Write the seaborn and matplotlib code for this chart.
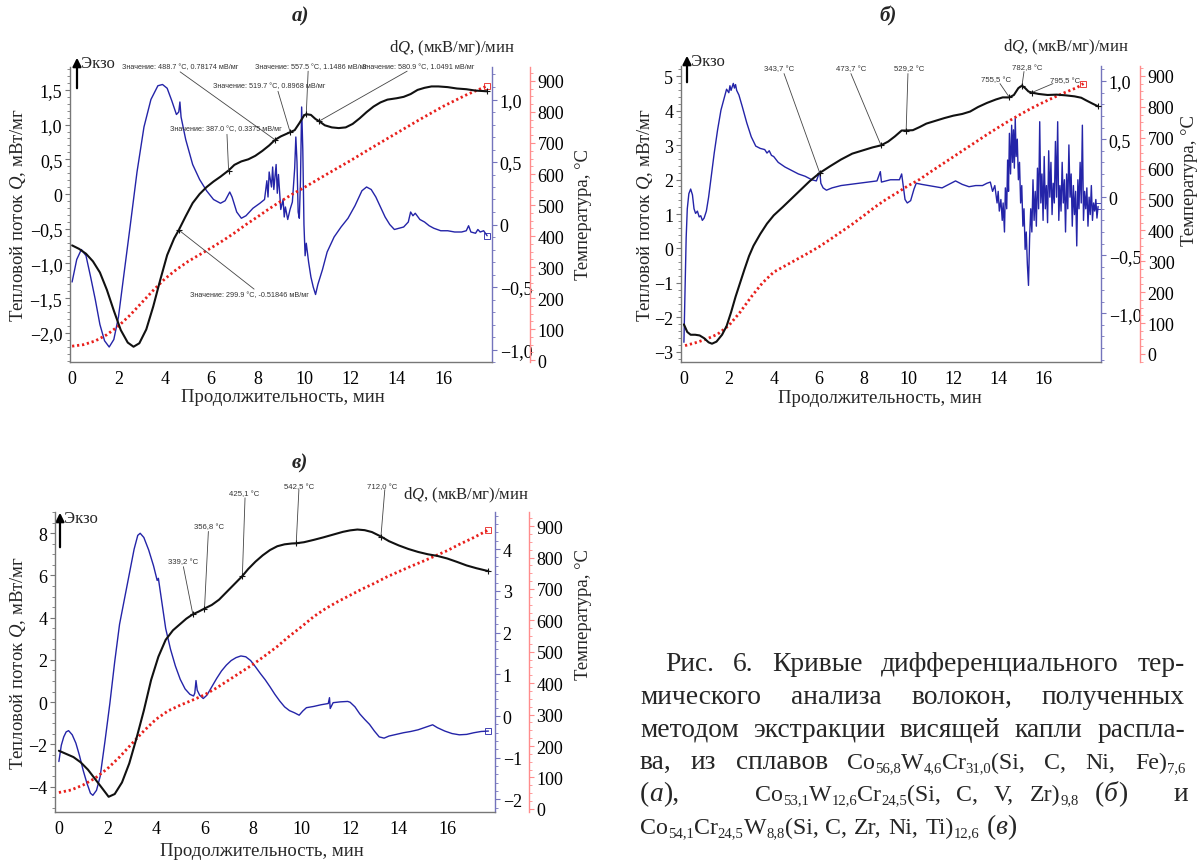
import re
import numpy as np
import matplotlib
matplotlib.use("Agg")
import matplotlib.pyplot as plt
import seaborn as sns
from matplotlib.ticker import FixedLocator, FixedFormatter, AutoMinorLocator

# ---------------------------------------------------------------- data
# common tick values / labels
time_ticks = [0, 2, 4, 6, 8, 10, 12, 14, 16]
temp_ticks = [0, 100, 200, 300, 400, 500, 600, 700, 800, 900]

# ---- panel а
a_q_t = [0.0, 0.3, 0.6, 0.9, 1.2, 1.5, 1.8, 2.1, 2.4, 2.65, 2.9, 3.2, 3.5, 3.8, 4.1, 4.4, 4.6, 4.9,
         5.2, 5.5, 5.8, 6.1, 6.4, 6.75, 7.0, 7.3, 7.6, 7.9, 8.2, 8.5, 8.75, 9.0, 9.2, 9.4, 9.6, 9.8,
         10.0, 10.1, 10.3, 10.5, 10.65, 10.9, 11.2, 11.5, 11.8, 12.1, 12.4, 12.7, 13.0, 13.3, 13.6,
         14.0, 14.3, 14.6, 14.9, 15.2, 15.5, 15.8, 16.2, 16.6, 17.0, 17.4, 17.9]
a_q = [-0.74, -0.79, -0.86, -0.97, -1.13, -1.38, -1.68, -1.96, -2.14, -2.2, -2.15, -1.95, -1.62,
       -1.24, -0.88, -0.64, -0.52, -0.32, -0.13, 0.0, 0.1, 0.18, 0.25, 0.34, 0.42, 0.47, 0.5, 0.55,
       0.62, 0.7, 0.78, 0.83, 0.86, 0.89, 0.92, 1.02, 1.13, 1.15, 1.14, 1.08, 1.05, 0.99, 0.96, 0.95,
       0.96, 1.01, 1.09, 1.18, 1.26, 1.32, 1.36, 1.38, 1.4, 1.44, 1.5, 1.53, 1.55, 1.55, 1.54, 1.52,
       1.51, 1.49, 1.48]
a_dq_t = [0.0, 0.2, 0.4, 0.6, 0.8, 1.0, 1.2, 1.4, 1.6, 1.8, 2.0, 2.2, 2.5, 2.8, 3.1, 3.4, 3.7, 3.9,
          4.1, 4.3, 4.5, 4.6, 4.65, 4.7, 4.9, 5.2, 5.5, 5.8, 6.1, 6.4, 6.6, 6.8, 6.9, 7.1, 7.3, 7.5,
          7.8, 8.1, 8.3, 8.4, 8.45, 8.5, 8.6, 8.65, 8.7, 8.8, 8.85, 8.9, 9.0, 9.1, 9.15, 9.2, 9.3,
          9.4, 9.5, 9.6, 9.65, 9.7, 9.75, 9.8, 9.85, 9.9, 9.95, 10.0, 10.05, 10.1, 10.2, 10.3, 10.4,
          10.5, 10.6, 10.8, 11.0, 11.3, 11.6, 11.9, 12.2, 12.5, 12.7, 12.9, 13.1, 13.3, 13.5, 13.7,
          13.9, 14.1, 14.3, 14.5, 14.6, 14.7, 14.8, 15.0, 15.2, 15.4, 15.6, 15.9, 16.2, 16.5, 16.8,
          17.0, 17.1, 17.2, 17.4, 17.5, 17.6, 17.75, 17.9]
a_dq = [-0.46, -0.28, -0.2, -0.25, -0.42, -0.6, -0.8, -0.93, -0.98, -0.92, -0.74, -0.45, -0.02,
        0.42, 0.78, 1.0, 1.11, 1.12, 1.09, 0.99, 0.88, 0.9, 0.98, 0.86, 0.68, 0.48, 0.36, 0.27, 0.2,
        0.17, 0.19, 0.26, 0.22, 0.1, 0.05, 0.07, 0.13, 0.17, 0.2, 0.35, 0.22, 0.42, 0.3, 0.46, 0.28,
        0.48, 0.25, 0.4, 0.12, 0.2, 0.06, 0.14, 0.04, 0.12, 0.18, 0.45, 0.7, 0.5, 0.1, 0.05, 0.35,
        0.94, 0.6, 0.0, -0.25, -0.15, -0.3, -0.42, -0.5, -0.56, -0.48, -0.36, -0.22, -0.1, -0.02,
        0.05, 0.15, 0.27, 0.3, 0.28, 0.22, 0.14, 0.06, 0.0, -0.04, -0.03, -0.02, 0.02, 0.1, 0.07,
        0.09, 0.04, 0.02, -0.01, -0.03, -0.05, -0.05, -0.06, -0.06, -0.05, -0.01, -0.06, -0.07,
        -0.04, -0.06, -0.05, -0.09]
a_T_t = [0.0, 0.5, 1.0, 1.5, 2.0, 2.5, 3.0, 3.5, 4.0, 4.5, 5.0, 5.5, 6.0, 6.5, 7.0, 7.5, 8.0, 8.5,
         9.0, 9.5, 10.0, 10.5, 11.0, 12.0, 13.0, 14.0, 15.0, 16.0, 17.0, 17.9]
a_T = [45, 50, 62, 82, 110, 145, 185, 225, 262, 292, 318, 340, 362, 385, 410, 437, 462, 488, 512,
       535, 556, 578, 600, 643, 688, 732, 776, 818, 855, 884]
a_q_ticks = [-2.0, -1.5, -1.0, -0.5, 0.0, 0.5, 1.0, 1.5]
a_q_labels = ["\u22122,0", "\u22121,5", "\u22121,0", "\u22120,5", "0", "0,5", "1,0", "1,5"]
a_dq_ticks = [-1.0, -0.5, 0.0, 0.5, 1.0]
a_dq_labels = ["\u22121,0", "\u22120,5", "0", "0,5", "1,0"]
a_ann_t = [8.75, 9.4, 10.1, 10.65, 6.75, 4.6]
a_ann_q = [0.78174, 0.8968, 1.1486, 1.0491, 0.3375, -0.51846]
a_ann_text = ["Значение: 488.7 °C, 0.78174 мВ/мг", "Значение: 519.7 °C, 0.8968 мВ/мг",
              "Значение: 557.5 °C, 1.1486 мВ/мг", "Значение: 580.9 °C, 1.0491 мВ/мг",
              "Значение: 387.0 °C, 0.3375 мВ/мг", "Значение: 299.9 °C, -0.51846 мВ/мг"]

# ---- panel б
b_q_t = [0.0, 0.15, 0.3, 0.5, 0.7, 0.9, 1.1, 1.25, 1.45, 1.7, 1.9, 2.1, 2.3, 2.5, 2.7, 2.9, 3.1,
         3.4, 3.7, 4.0, 4.4, 4.8, 5.2, 5.6, 6.05, 6.5, 7.0, 7.5, 8.0, 8.4, 8.78, 9.1, 9.4, 9.7, 9.9,
         10.2, 10.5, 10.8, 11.2, 11.6, 12.0, 12.4, 12.75, 13.1, 13.5, 13.9, 14.2, 14.5, 14.7, 14.9,
         15.06, 15.2, 15.35, 15.5, 15.8, 16.2, 16.6, 17.0, 17.4, 17.7, 17.9, 18.2, 18.45]
b_q = [-2.2, -2.42, -2.5, -2.5, -2.52, -2.6, -2.72, -2.76, -2.7, -2.5, -2.25, -1.85, -1.4, -1.0,
       -0.6, -0.22, 0.08, 0.42, 0.72, 0.96, 1.2, 1.45, 1.7, 1.95, 2.19, 2.38, 2.58, 2.75, 2.85,
       2.93, 2.99, 3.1, 3.25, 3.42, 3.42, 3.43, 3.52, 3.62, 3.7, 3.78, 3.85, 3.9, 3.97, 4.1, 4.22,
       4.32, 4.38, 4.38, 4.45, 4.65, 4.72, 4.65, 4.55, 4.52, 4.48, 4.45, 4.46, 4.44, 4.41, 4.37,
       4.3, 4.2, 4.12]
b_dq_t = [0.0, 0.05, 0.1, 0.15, 0.22, 0.3, 0.38, 0.45, 0.52, 0.6, 0.68, 0.75, 0.82, 0.9, 1.0,
          1.1, 1.2, 1.35, 1.5, 1.65, 1.8, 1.9, 2.0, 2.05, 2.1, 2.2, 2.25, 2.3, 2.35, 2.45, 2.6,
          2.8, 3.0, 3.2, 3.4, 3.6, 3.7, 3.8, 3.9, 4.0, 4.2, 4.5, 4.8, 5.1, 5.4, 5.7, 5.9, 6.05,
          6.1, 6.2, 6.35, 6.6, 7.0, 7.4, 7.8, 8.2, 8.6, 8.75, 8.8, 9.2, 9.6, 9.7, 9.78, 9.85, 9.95,
          10.1, 10.25, 10.35, 10.6, 10.9, 11.2, 11.5, 11.8, 12.1, 12.4, 12.7, 13.0, 13.3, 13.5,
          13.65, 13.75, 13.85, 13.95, 14.0, 14.05, 14.12, 14.18, 14.22, 14.28, 14.32, 14.38, 14.42,
          14.46, 14.5, 14.55, 14.6, 14.64, 14.68, 14.72, 14.76, 14.8, 14.85, 14.9, 14.95, 15.0,
          15.05, 15.1, 15.15, 15.2, 15.25, 15.3, 15.35, 15.4, 15.45, 15.5, 15.55, 15.6, 15.65,
          15.7, 15.75, 15.8, 15.85, 15.9, 15.95, 16.0, 16.05, 16.1, 16.15, 16.2, 16.25, 16.3,
          16.35, 16.4, 16.45, 16.5, 16.55, 16.6, 16.65, 16.7, 16.75, 16.8, 16.85, 16.9, 16.95,
          17.0, 17.05, 17.1, 17.15, 17.2, 17.25, 17.3, 17.35, 17.4, 17.45, 17.5, 17.55, 17.6,
          17.65, 17.7, 17.75, 17.8, 17.85, 17.9, 17.95, 18.0, 18.05, 18.1, 18.15, 18.2, 18.25,
          18.3, 18.35, 18.4, 18.45]
b_dq = [-1.25, -0.8, -0.35, -0.1, 0.03, 0.07, 0.02, -0.1, -0.14, -0.12, -0.17, -0.16, -0.2,
        -0.18, -0.12, 0.0, 0.15, 0.38, 0.58, 0.75, 0.86, 0.93, 0.9, 0.96, 0.92, 0.98, 0.94, 0.97,
        0.92, 0.88, 0.78, 0.64, 0.52, 0.44, 0.42, 0.41, 0.38, 0.4, 0.36, 0.35, 0.3, 0.26, 0.23,
        0.2, 0.18, 0.15, 0.14, 0.22, 0.12, 0.08, 0.06, 0.08, 0.1, 0.11, 0.12, 0.13, 0.14, 0.22,
        0.13, 0.15, 0.15, 0.2, 0.08, -0.02, -0.05, -0.03, 0.07, 0.12, 0.11, 0.1, 0.09, 0.08, 0.11,
        0.14, 0.11, 0.09, 0.1, 0.1, 0.12, 0.13, 0.05, 0.1, -0.05, 0.05, -0.12, -0.02, -0.2, -0.05,
        -0.3, 0.08, -0.1, 0.32, 0.05, 0.55, 0.2, 0.62, 0.3, 0.58, 0.25, 0.68, 0.35, 0.5, 0.15,
        0.3, -0.05, 0.1, -0.25, -0.1, -0.45, -0.3, -0.58, -0.76, -0.35, -0.1, -0.3, 0.15, -0.2,
        0.05, -0.25, 0.25, -0.1, 0.65, -0.05, 0.2, -0.2, 0.35, -0.1, 0.1, -0.22, 0.4, 0.0, 0.3,
        -0.15, 0.12, -0.05, 0.48, 0.0, 0.65, -0.2, 0.1, -0.12, 0.3, -0.05, 0.15, -0.3, 0.2, -0.1,
        0.45, 0.0, 0.2, -0.25, 0.1, -0.15, 0.05, -0.42, 0.15, -0.1, 0.3, -0.05, 0.62, -0.2, 0.05,
        -0.1, 0.08, -0.25, 0.0, -0.15, 0.1, -0.2, -0.05, -0.12, -0.02, -0.18, -0.08]
b_T_t = [0.05, 0.5, 1.0, 1.5, 2.0, 2.5, 3.0, 3.5, 4.0, 4.5, 5.0, 5.5, 6.0, 6.5, 7.0, 7.5, 8.0,
         8.5, 9.0, 9.5, 10.0, 10.5, 11.0, 11.5, 12.0, 12.5, 13.0, 13.5, 14.0, 14.5, 15.0, 15.5,
         16.0, 16.5, 17.0, 17.5, 17.8]
b_T = [27, 36, 48, 64, 92, 135, 185, 230, 265, 285, 305, 325, 346, 370, 395, 420, 447, 475, 500,
       522, 545, 565, 590, 614, 638, 662, 686, 710, 733, 755, 776, 796, 814, 831, 847, 862, 875]
b_q_ticks = [-3, -2, -1, 0, 1, 2, 3, 4, 5]
b_q_labels = ["\u22123", "\u22122", "\u22121", "0", "1", "2", "3", "4", "5"]
b_dq_ticks = [-1.0, -0.5, 0.0, 0.5, 1.0]
b_dq_labels = ["\u22121,0", "\u22120,5", "0", "0,5", "1,0"]
b_ann_t = [6.05, 8.78, 9.9, 14.5, 15.06, 15.5]
b_ann_q = [2.19, 2.99, 3.42, 4.38, 4.72, 4.52]
b_ann_text = ["343,7 °C", "473,7 °C", "529,2 °C", "755,5 °C", "782,8 °C", "795,5 °C"]

# ---- panel в
c_q_t = [0.0, 0.3, 0.6, 0.9, 1.2, 1.5, 1.8, 2.05, 2.3, 2.6, 2.9, 3.2, 3.5, 3.8, 4.1, 4.4, 4.7,
         5.0, 5.25, 5.52, 5.75, 6.0, 6.3, 6.6, 6.9, 7.2, 7.56, 7.8, 8.1, 8.4, 8.7, 9.0, 9.3, 9.6,
         9.78, 10.1, 10.5, 10.9, 11.3, 11.7, 12.0, 12.3, 12.6, 12.9, 13.27, 13.6, 14.0, 14.4,
         14.8, 15.2, 15.6, 16.0, 16.4, 16.8, 17.2, 17.7]
c_q = [-2.3, -2.45, -2.6, -2.85, -3.2, -3.65, -4.1, -4.48, -4.35, -3.8, -2.9, -1.7, -0.4, 1.05,
       2.15, 2.95, 3.4, 3.7, 3.95, 4.16, 4.28, 4.43, 4.6, 4.85, 5.2, 5.55, 5.97, 6.3, 6.65, 6.95,
       7.2, 7.38, 7.47, 7.51, 7.52, 7.57, 7.68, 7.8, 7.93, 8.06, 8.13, 8.17, 8.14, 8.05, 7.84,
       7.62, 7.42, 7.25, 7.11, 7.0, 6.92, 6.8, 6.64, 6.47, 6.34, 6.2]
c_dq_t = [0.0, 0.1, 0.2, 0.3, 0.4, 0.55, 0.7, 0.85, 1.0, 1.15, 1.3, 1.4, 1.55, 1.7, 1.9, 2.1,
          2.3, 2.5, 2.7, 2.9, 3.1, 3.25, 3.35, 3.5, 3.7, 3.9, 4.05, 4.1, 4.2, 4.4, 4.6, 4.8, 5.0,
          5.2, 5.4, 5.55, 5.6, 5.65, 5.7, 5.8, 5.95, 6.1, 6.3, 6.5, 6.7, 6.9, 7.1, 7.3, 7.5, 7.7,
          7.9, 8.1, 8.3, 8.5, 8.7, 8.9, 9.1, 9.3, 9.5, 9.7, 9.9, 10.05, 10.2, 10.5, 10.8, 11.1,
          11.15, 11.18, 11.3, 11.6, 11.9, 12.0, 12.2, 12.4, 12.6, 12.8, 13.0, 13.2, 13.4, 13.6,
          13.9, 14.2, 14.5, 14.8, 15.1, 15.4, 15.6, 15.9, 16.2, 16.5, 16.8, 17.1, 17.4, 17.7]
c_dq = [-1.09, -0.7, -0.5, -0.38, -0.35, -0.45, -0.65, -0.95, -1.3, -1.6, -1.85, -1.9, -1.78,
        -1.45, -0.6, 0.3, 1.3, 2.2, 2.8, 3.4, 4.0, 4.33, 4.38, 4.28, 3.98, 3.6, 3.25, 3.3, 2.9,
        2.1, 1.6, 1.2, 0.88, 0.65, 0.52, 0.48, 0.55, 0.85, 0.62, 0.5, 0.42, 0.5, 0.7, 0.9, 1.08,
        1.22, 1.33, 1.4, 1.44, 1.42, 1.33, 1.18, 1.02, 0.87, 0.7, 0.52, 0.36, 0.22, 0.13, 0.08,
        0.02, 0.12, 0.2, 0.23, 0.27, 0.3, 0.44, 0.18, 0.32, 0.34, 0.35, 0.33, 0.22, 0.05, -0.08,
        -0.2, -0.36, -0.5, -0.53, -0.48, -0.44, -0.4, -0.37, -0.33, -0.27, -0.21, -0.28, -0.36,
        -0.42, -0.45, -0.44, -0.4, -0.37, -0.36]
c_T_t = [0.0, 0.5, 1.0, 1.5, 2.0, 2.5, 3.0, 3.5, 4.0, 4.5, 5.0, 5.5, 6.0, 6.5, 7.0, 7.5, 8.0,
         8.5, 9.0, 9.5, 10.0, 10.5, 11.0, 11.5, 12.0, 12.5, 13.0, 13.5, 14.0, 14.5, 15.0, 15.5,
         16.0, 16.5, 17.0, 17.7]
c_T = [52, 60, 76, 98, 128, 165, 207, 248, 285, 312, 330, 346, 363, 385, 410, 435, 460, 488, 517,
       550, 580, 612, 638, 660, 680, 700, 718, 738, 755, 772, 788, 805, 822, 842, 860, 888]
c_q_ticks = [-4, -2, 0, 2, 4, 6, 8]
c_q_labels = ["\u22124", "\u22122", "0", "2", "4", "6", "8"]
c_dq_ticks = [-2, -1, 0, 1, 2, 3, 4]
c_dq_labels = ["\u22122", "\u22121", "0", "1", "2", "3", "4"]
c_ann_t = [5.52, 6.0, 7.56, 9.78, 13.27]
c_ann_q = [4.16, 4.43, 5.97, 7.52, 7.84]
c_ann_text = ["339,2 °C", "356,8 °C", "425,1 °C", "542,5 °C", "712,0 °C"]

# ---- caption (markup: _{..} subscript, *..* italic)
caption_groups = [
    [(665, 1185, "Рис. 6. Кривые дифференциального тер-")],
    [(640, 1185, "мического анализа волокон, полученных")],
    [(640, 1185, "методом экстракции висящей капли распла-")],
    [(640, 1185, "ва, из сплавов Co_{56,8}W_{4,6}Cr_{31,0}(Si, C, Ni, Fe)_{7,6}")],
    [(640, None, "(*а*),"), (755, 1127, "Co_{53,1}W_{12,6}Cr_{24,5}(Si, C, V, Zr)_{9,8} (*б*)"),
     (1174, None, "и")],
    [(640, None, "Co_{54,1}Cr_{24,5}W_{8,8}(Si, C, Zr, Ni, Ti)_{12,6} (*в*)")],
]
caption_baselines = [671, 704, 737, 769, 801, 834]

# ---------------------------------------------------------------- style
sns.set_theme(style="white")
plt.rcParams["font.family"] = ["Liberation Serif", "DejaVu Serif"]
plt.rcParams["mathtext.fontset"] = "custom"
plt.rcParams["mathtext.rm"] = "Liberation Serif"
plt.rcParams["mathtext.it"] = "Liberation Serif:italic"
plt.rcParams["mathtext.bf"] = "Liberation Serif:bold"

BLACK = "#111111"
BLUE = "#2424a8"
RED = "#e8201c"
SP_GRAY = "#777777"
SP_BLUE = "#7474bc"
SP_RED = "#ff8c8c"
TICK_FS = 13
LAB_FS = 13.5
DQ_FS = 12
ANN_FONT = ["Liberation Sans", "DejaVu Sans"]

fig = plt.figure(figsize=(12, 8.62), dpi=100)
fig.patch.set_facecolor("white")


def fx(x):
    return x / 1200.0


def fy(y):
    return 1.0 - y / 862.0


def style_axis(a, which, color):
    a.tick_params(axis=which, which="major", length=3.5, width=0.8, color=color,
                  labelsize=TICK_FS, labelcolor="black", pad=2)
    a.tick_params(axis=which, which="minor", length=2, width=0.6, color=color)


def make_panel(rect, xlim, qlim, dqlim, Tlim, red_off,
               q_t, q, dq_t, dq, T_t, T,
               q_ticks, q_labels, dq_ticks, dq_labels, q_minor, dq_minor):
    ax = fig.add_axes(rect)
    axb = ax.twinx()
    axr = ax.twinx()
    ax.set_zorder(3)
    axr.set_zorder(2)
    axb.set_zorder(1)
    ax.patch.set_visible(False)

    sns.lineplot(x=np.array(dq_t), y=np.array(dq), ax=axb, color=BLUE, lw=1.0,
                 estimator=None, sort=False, legend=False)
    sns.lineplot(x=np.array(T_t), y=np.array(T), ax=axr, color=RED, lw=2.0,
                 linestyle=(0, (0.8, 1.0)), estimator=None, sort=False, legend=False)
    sns.lineplot(x=np.array(q_t), y=np.array(q), ax=ax, color=BLACK, lw=1.5,
                 estimator=None, sort=False, legend=False)
    # small end markers
    axb.plot(dq_t[-1], dq[-1], marker="s", ms=4, mfc="none", mec=BLUE, mew=0.6)
    axr.plot(T_t[-1], T[-1], marker="s", ms=4, mfc="none", mec=RED, mew=0.6)
    ax.plot(q_t[-1], q[-1], marker="+", ms=5, color=BLACK, mew=0.8)

    ax.set_xlim(*xlim)
    ax.set_ylim(*qlim)
    axb.set_ylim(*dqlim)
    axr.set_ylim(*Tlim)
    for a in (ax, axb, axr):
        a.set_xlabel("")
        a.set_ylabel("")
        a.grid(False)

    ax.xaxis.set_major_locator(FixedLocator(time_ticks))
    ax.xaxis.set_major_formatter(FixedFormatter([str(v) for v in time_ticks]))
    ax.xaxis.set_minor_locator(AutoMinorLocator(2))
    ax.yaxis.set_major_locator(FixedLocator(q_ticks))
    ax.yaxis.set_major_formatter(FixedFormatter(q_labels))
    ax.yaxis.set_minor_locator(AutoMinorLocator(q_minor))
    axb.yaxis.set_major_locator(FixedLocator(dq_ticks))
    axb.yaxis.set_major_formatter(FixedFormatter(dq_labels))
    axb.yaxis.set_minor_locator(AutoMinorLocator(dq_minor))
    axr.yaxis.set_major_locator(FixedLocator(temp_ticks))
    axr.yaxis.set_major_formatter(FixedFormatter([str(v) for v in temp_ticks]))
    axr.yaxis.set_minor_locator(AutoMinorLocator(4))

    for s in ("top", "right"):
        ax.spines[s].set_visible(False)
    for s in ("left", "bottom"):
        ax.spines[s].set_color(SP_GRAY)
        ax.spines[s].set_linewidth(1.0)
    for a, col in ((axb, SP_BLUE), (axr, SP_RED)):
        for s in ("top", "left", "bottom"):
            a.spines[s].set_visible(False)
        a.spines["right"].set_color(col)
        a.spines["right"].set_linewidth(1.0)
    axr.spines["right"].set_position(("axes", red_off))

    style_axis(ax, "x", SP_GRAY)
    style_axis(ax, "y", SP_GRAY)
    style_axis(axb, "y", SP_BLUE)
    style_axis(axr, "y", SP_RED)
    return ax, axb, axr


def annotate(ax, ts, qs, texts, label_xy, start_xy, ha, fs):
    ax.plot(ts, qs, linestyle="none", marker="+", ms=5, mew=0.8, color=BLACK, zorder=5)
    for t, q, s, (lx, ly), (sx, sy) in zip(ts, qs, texts, label_xy, start_xy):
        ax.plot([sx, t], [sy, q], color="#444444", lw=0.6, clip_on=False, zorder=4)
        ax.text(lx, ly, s, ha=ha, va="center", fontsize=fs, family=ANN_FONT,
                color="#333333", clip_on=False, zorder=6)


def side_texts(title_xy, dq_xy, ylab_xy, tlab_xy, xlab_xy, exo_x, exo_y0, exo_y1, title):
    fig.text(fx(title_xy[0]), fy(title_xy[1]), title, ha="center", va="center",
             fontsize=15, fontstyle="italic", fontweight="bold")
    fig.text(fx(dq_xy[0]), fy(dq_xy[1]), "d$\\mathit{Q}$, (мкВ/мг)/мин", ha="center",
             va="center", fontsize=DQ_FS)
    fig.text(fx(ylab_xy[0]), fy(ylab_xy[1]), "Тепловой поток $\\mathit{Q}$, мВт/мг",
             ha="center", va="center", rotation=90, fontsize=LAB_FS)
    fig.text(fx(tlab_xy[0]), fy(tlab_xy[1]), "Температура, °C", ha="center", va="center",
             rotation=90, fontsize=LAB_FS)
    fig.text(fx(xlab_xy[0]), fy(xlab_xy[1]), "Продолжительность, мин", ha="center",
             va="center", fontsize=LAB_FS)
    fig.add_artist(matplotlib.patches.FancyArrowPatch(
        (fx(exo_x), fy(exo_y0)), (fx(exo_x), fy(exo_y1)), transform=fig.transFigure,
        arrowstyle="-|>,head_length=5,head_width=2.5", color="black", lw=1.6))
    fig.text(fx(exo_x + 4), fy(exo_y1 + 8), "Экзо", ha="left", va="center", fontsize=12)


# ---------------------------------------------------------------- panel а
ax_a, _, _ = make_panel([fx(70), fy(363), fx(422), 295 / 862.0], (-0.09, 18.11), (-2.42, 1.83),
                        (-1.10, 1.26), (-6, 945), 1.090,
                        a_q_t, a_q, a_dq_t, a_dq, a_T_t, a_T,
                        a_q_ticks, a_q_labels, a_dq_ticks, a_dq_labels, 5, 5)
annotate(ax_a, a_ann_t, a_ann_q, a_ann_text,
         [(2.16, 1.83), (6.08, 1.556), (7.89, 1.83), (12.5, 1.83), (4.23, 0.95), (5.09, -1.455)],
         [(4.66, 1.76), (8.88, 1.48), (10.18, 1.77), (14.45, 1.77), (6.68, 0.86), (7.85, -1.37)],
         "left", 5.2)
side_texts((300, 16), (452, 48), (18, 215), (583, 215), (283, 398), 77, 92, 56, "а)")

# ---------------------------------------------------------------- panel б
ax_b, _, _ = make_panel([fx(681), fy(363), fx(420), 296 / 862.0], (-0.13, 18.58), (-3.29, 5.29),
                        (-1.42, 1.13), (-26, 932), 1.093,
                        b_q_t, b_q, b_dq_t, b_dq, b_T_t, b_T,
                        b_q_ticks, b_q_labels, b_dq_ticks, b_dq_labels, 5, 5)
annotate(ax_b, b_ann_t, b_ann_q, b_ann_text,
         [(4.23, 5.22), (7.44, 5.22), (10.03, 5.22), (13.9, 4.9), (15.29, 5.25), (17.0, 4.87)],
         [(4.46, 5.07), (7.44, 5.07), (9.98, 5.07), (14.08, 4.78), (15.15, 5.13), (16.44, 4.78)],
         "center", 5.6)
side_texts((888, 16), (1066, 47), (645, 215), (1189, 180), (880, 399), 687, 86, 54, "б)")

# ---------------------------------------------------------------- panel в
ax_c, _, _ = make_panel([fx(55), fy(813), fx(440), 300 / 862.0], (-0.16, 17.97), (-5.2, 9.0),
                        (-2.30, 4.89), (-10, 945), 1.077,
                        c_q_t, c_q, c_dq_t, c_dq, c_T_t, c_T,
                        c_q_ticks, c_q_labels, c_dq_ticks, c_dq_labels, 4, 5)
annotate(ax_c, c_ann_t, c_ann_q, c_ann_text,
         [(5.13, 6.65), (6.19, 8.29), (7.65, 9.87), (9.89, 10.2), (13.33, 10.2)],
         [(5.13, 6.41), (6.16, 8.08), (7.67, 9.67), (9.89, 10.06), (13.43, 10.06)],
         "center", 5.6)
side_texts((300, 463), (466, 495), (18, 663), (584, 615), (262, 852), 60, 551, 511, "в)")

# ---------------------------------------------------------------- caption
CYR_FS = 19.8      # Cyrillic words
LAT_FS = 17.2      # words of the alloy formulas
SUB_SCALE = 0.62
renderer = fig.canvas.get_renderer()


def parse_word(w):
    segs = []
    for tok in re.split(r"(_\{[^}]*\}|\*[^*]*\*)", w):
        if not tok:
            continue
        if tok.startswith("_{"):
            segs.append((tok[2:-1], "sub"))
        elif tok.startswith("*"):
            segs.append((tok[1:-1], "it"))
        else:
            segs.append((tok, "n"))
    return segs


def build_word(word, yb):
    size = LAT_FS if re.search(r"[A-Za-z]", word) else CYR_FS
    arts = []
    for txt, kind in parse_word(word):
        kw = dict(ha="left", va="baseline")
        if kind == "sub":
            a = fig.text(0, fy(yb + 0.14 * size * 100 / 72), txt, fontsize=size * SUB_SCALE, **kw)
        elif kind == "it":
            a = fig.text(0, fy(yb), txt, fontsize=size, fontstyle="italic", **kw)
        else:
            a = fig.text(0, fy(yb), txt, fontsize=size, **kw)
        w = a.get_window_extent(renderer).width
        arts.append((a, w))
    return arts, sum(w for _, w in arts)


def place_word(arts, x):
    for a, w in arts:
        a.set_x(fx(x))
        x += w
    return x


for groups, yb in zip(caption_groups, caption_baselines):
    for x0, x1, text in groups:
        words = text.split(" ")
        built = [build_word(w, yb) for w in words]
        total = sum(wd for _, wd in built)
        if x1 is not None and len(words) > 1:
            gap = (x1 - x0 - total) / (len(words) - 1)
        else:
            gap = 0.25 * CYR_FS * 100 / 72
        x = x0
        for arts, wd in built:
            place_word(arts, x)
            x += wd + gap

fig.savefig("out.png", dpi=100, facecolor="white")
